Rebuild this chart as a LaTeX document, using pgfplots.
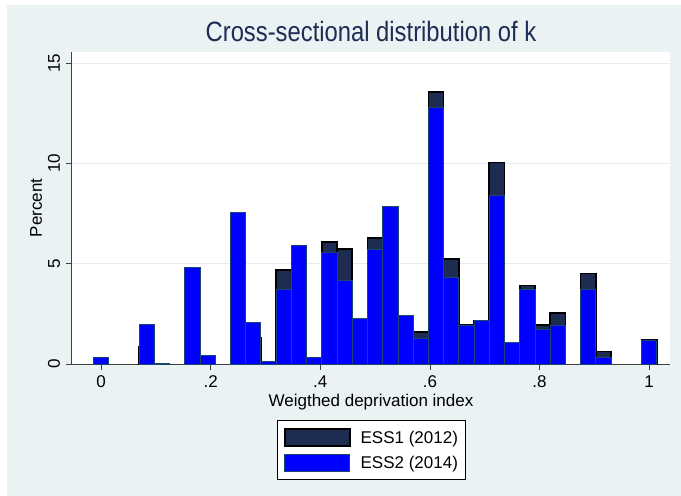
\documentclass[border=0pt]{standalone}
\usepackage{fontspec}
\setmainfont{Liberation Sans}
\usepackage{pgfplots}
\pgfplotsset{compat=1.18}
\definecolor{bgc}{RGB}{234,242,243}
\definecolor{ess1}{RGB}{30,44,82}
\definecolor{ess2}{RGB}{0,0,255}
\definecolor{ess2line}{RGB}{26,71,111}
\definecolor{titlecol}{RGB}{30,45,83}
\definecolor{gridc}{RGB}{228,236,239}
\begin{document}
\begin{tikzpicture}[x=1pt,y=1pt]
\fill[white] (0,0) rectangle (681,496);
\fill[bgc] (7,0) rectangle (681,491);
\useasboundingbox (0,0) rectangle (681,496);
\begin{axis}[
  at={(72pt,132pt)}, anchor=south west,
  scale only axis, width=598pt, height=312pt,
  xmin=-0.0529, xmax=1.038, ymin=0, ymax=15.56,
  axis lines*=left,
  axis line style={line width=1pt, color=black!75},
  axis background/.style={fill=white},
  /pgf/number format/assume math mode=true,
  font=\fontsize{17}{20}\selectfont,
  xtick={0,0.2,0.4,0.6,0.8,1},
  xticklabels={0,.2,.4,.6,.8,1},
  ytick={0,5,10,15},
  yticklabels={0,5,10,15},
  tick align=outside,
  major tick length=6pt,
  tick style={line width=0.8pt, color=black!75},
  ymajorgrids,
  major grid style={gridc, line width=1pt},
  xticklabel style={anchor=base, font=\fontsize{17}{20}\selectfont},
  xticklabel shift=17pt,
  yticklabel style={rotate=90, anchor=base, font=\fontsize{17}{20}\selectfont},
  yticklabel shift=6pt,
  title={Cross-sectional distribution of k},
  title style={at={(axis description cs:0.5,1)}, anchor=base, yshift=4pt, xscale=0.85, font=\fontsize{28}{32}\selectfont, color=titlecol},
  xlabel={Weigthed deprivation index},
  xlabel style={at={(axis description cs:0.5,0)}, anchor=base, yshift=-42pt, font=\fontsize{17}{20}\selectfont},
  ylabel={Percent},
  ylabel style={at={(axis description cs:-0.0502,0.5)}, anchor=base, font=\fontsize{17}{20}\selectfont},
  legend style={at={(0.5,0)}, anchor=north, yshift=-56pt, draw=black, fill=white, line width=0.8pt,
    inner xsep=7pt, inner ysep=8pt, row sep=7pt,
    nodes={inner sep=0pt, font=\fontsize{17}{20}\selectfont},
    /tikz/every odd column/.append style={column sep=10pt}},
  legend cell align=left,
  legend image code/.code={\draw[#1] (0pt,-8.5pt) rectangle (65pt,8.5pt);},
]
\addplot[ybar, bar width=0.02778, bar shift=0pt, fill=ess1, draw=black, line width=1.6pt] coordinates {
(0,0.08) (0.08333,0.85) (0.11111,0.02) (0.16667,3.03) (0.19444,0.23)
(0.25,5.77) (0.27778,1.31) (0.30556,0.08) (0.33333,4.70) (0.36111,4.47)
(0.38889,0.25) (0.41667,6.07) (0.44444,5.75) (0.47222,2.26) (0.5,6.27)
(0.52778,7.32) (0.55556,2.41) (0.58333,1.60) (0.61111,13.57) (0.63889,5.24)
(0.66667,1.95) (0.69444,2.16) (0.72222,10.04) (0.75,1.06) (0.77778,3.91)
(0.80556,1.95) (0.83333,2.53) (0.88889,4.52) (0.91667,0.63) (1,1.20)
};
\addlegendentry{ESS1 (2012)}
\addplot[ybar, bar width=0.02778, bar shift=0pt, fill=ess2, draw=ess2line, line width=0.8pt] coordinates {
(0,0.34) (0.08333,1.99) (0.11111,0.04) (0.16667,4.80) (0.19444,0.41)
(0.25,7.57) (0.27778,2.08) (0.30556,0.12) (0.33333,3.72) (0.36111,5.90)
(0.38889,0.31) (0.41667,5.57) (0.44444,4.16) (0.47222,2.25) (0.5,5.72)
(0.52778,7.85) (0.55556,2.41) (0.58333,1.30) (0.61111,12.80) (0.63889,4.32)
(0.66667,1.95) (0.69444,2.16) (0.72222,8.39) (0.75,1.06) (0.77778,3.72)
(0.80556,1.71) (0.83333,1.95) (0.88889,3.72) (0.91667,0.33) (1,1.20)
};
\addlegendentry{ESS2 (2014)}
\end{axis}
\end{tikzpicture}
\end{document}
